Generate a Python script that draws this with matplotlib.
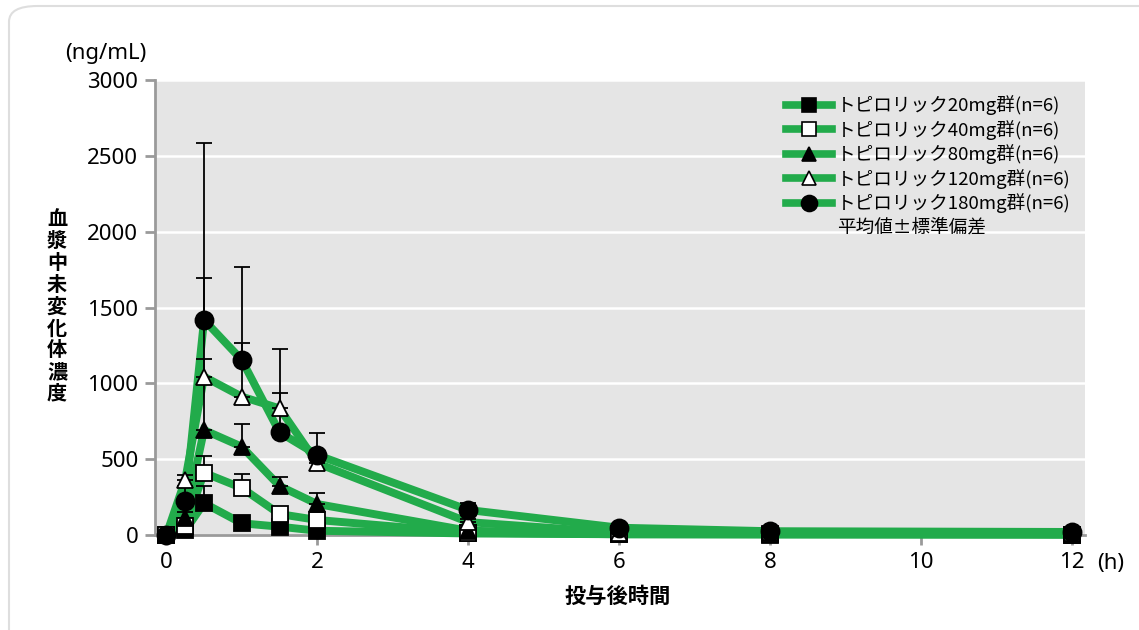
import numpy as np
import matplotlib.pyplot as plt
from matplotlib.lines import Line2D
from matplotlib.patches import FancyBboxPatch

plt.rcParams['font.family'] = ['Noto Sans CJK JP', 'DejaVu Sans']

# sampling times [h]
hours = [0, 0.25, 0.5, 1, 1.5, 2, 4, 6, 8, 12]

# mean plasma concentration [ng/mL] and upper SD
mean_20 = [0, 30, 210, 77, 55, 28, 10, 5, 3, 2]
sd_20 = [0, 5, 113, 15, 10, 5, 2, 1, 1, 1]
mean_40 = [0, 60, 410, 310, 138, 99, 15, 5, 5, 3]
sd_40 = [0, 10, 110, 90, 30, 20, 5, 2, 1, 1]
mean_80 = [0, 110, 692, 582, 323, 204, 28, 10, 15, 5]
sd_80 = [0, 40, 466, 150, 62, 75, 10, 3, 3, 2]
mean_120 = [0, 363, 1044, 912, 835, 473, 85, 15, 20, 10]
sd_120 = [0, 32, 648, 352, 100, 60, 20, 5, 5, 3]
mean_180 = [0, 226, 1418, 1154, 677, 527, 165, 48, 25, 20]
sd_180 = [0, 100, 1169, 615, 547, 148, 44, 10, 5, 5]

labels = ['トピロリック20mg群(n=6)', 'トピロリック40mg群(n=6)', 'トピロリック80mg群(n=6)',
          'トピロリック120mg群(n=6)', 'トピロリック180mg群(n=6)']
means = [mean_20, mean_40, mean_80, mean_120, mean_180]
sds = [sd_20, sd_40, sd_80, sd_120, sd_180]
markers = ['s', 's', '^', '^', 'o']
faces = ['black', 'white', 'black', 'white', 'black']
sizes = [11, 11, 11, 12, 13]

green = '#22ab4b'

fig = plt.figure(figsize=(11.39, 6.30), dpi=100)
card = FancyBboxPatch((9 / 1139, -0.05), 1.2, 1 - 6 / 630 + 0.05,
                      boxstyle='round,pad=0,rounding_size=0.025',
                      transform=fig.transFigure, facecolor='white',
                      edgecolor='#dedede', lw=1.5, zorder=-10)
fig.patches.append(card)

ax = fig.add_axes([155 / 1139, 1 - 535 / 630, 930 / 1139, 455 / 630])
ax.set_facecolor('#e5e5e5')
ax.set_xlim(-0.15, 12.17)
ax.set_ylim(0, 3000)
ax.set_yticks(np.arange(0, 3001, 500))
ax.set_xticks(np.arange(0, 13, 2))
ax.grid(axis='y', color='white', lw=1.8)
ax.set_axisbelow(True)

for s in ['top', 'right']:
    ax.spines[s].set_visible(False)
for s in ['left', 'bottom']:
    ax.spines[s].set_color('#9a9a9a')
    ax.spines[s].set_linewidth(2)
ax.tick_params(axis='both', colors='#9a9a9a', width=2, length=7, labelsize=16,
               labelcolor='black', pad=5)
for t in ax.get_xticklabels() + ax.get_yticklabels():
    t.set_fontfamily('Noto Sans')

# green lines first
for m in means:
    ax.plot(hours, m, color=green, lw=5.7, zorder=3, clip_on=False,
            solid_joinstyle='miter')
# upper error bars
for m, sd in zip(means, sds):
    ax.errorbar(hours, m, yerr=[np.zeros(len(sd)), sd], fmt='none', ecolor='black',
                elinewidth=1.3, capsize=6, capthick=1.3, zorder=4)
# markers
for m, mk, fc, ms in zip(means, markers, faces, sizes):
    ax.plot(hours, m, ls='none', marker=mk, ms=ms, mfc=fc, mec='black', mew=1.3,
            zorder=5, clip_on=False)

handles = []
for lab, mk, fc, ms in zip(labels, markers, faces, sizes):
    handles.append(Line2D([], [], color=green, lw=5.5, marker=mk, ms=ms - 1.5, mfc=fc,
                          mec='black', mew=1.2, label=lab))
handles.append(Line2D([], [], color='none', label='平均値±標準偏差'))
ax.legend(handles=handles, loc='upper left', bbox_to_anchor=(0.679, 0.966),
          frameon=False, fontsize=13.4, handlelength=2.45, handletextpad=0.25,
          labelspacing=0.245, borderaxespad=0, borderpad=0)

fig.text(106 / 1139, 1 - 53 / 630, '(ng/mL)', ha='center', va='center', fontsize=16,
         fontfamily='Noto Sans')
fig.text(1111 / 1139, 1 - 563 / 630, '(h)', ha='center', va='center', fontsize=16,
         fontfamily='Noto Sans')
fig.text(618 / 1139, 1 - 596 / 630, '投与後時間', ha='center', va='center',
         fontsize=15.3, fontweight='bold')
fig.text(57 / 1139, 1 - 306 / 630, '\n'.join('血漿中未変化体濃度'), ha='center',
         va='center', fontsize=14.5, fontweight='bold', linespacing=1.05)

fig.savefig('out.png', dpi=100)
